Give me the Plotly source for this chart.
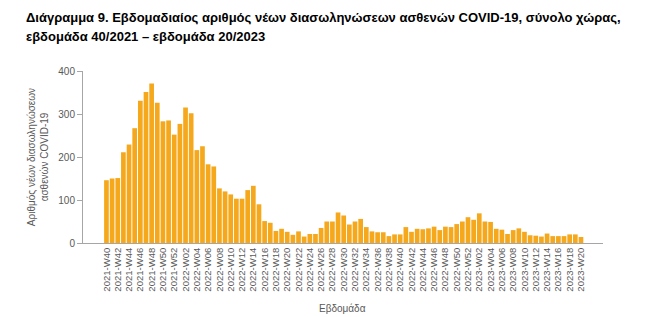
import plotly.graph_objects as go

weeks = ([f"2021-W{w:02d}" for w in range(40, 53)] +
         [f"2022-W{w:02d}" for w in range(1, 53)] +
         [f"2023-W{w:02d}" for w in range(1, 21)])

values = [146, 150, 151, 211, 229, 267, 331, 351, 371, 326,
          283, 285, 252, 277, 315, 302, 216, 225, 183, 178,
          127, 120, 113, 103, 103, 123, 133, 90, 51, 47,
          28, 33, 26, 19, 27, 15, 21, 21, 35, 50,
          50, 71, 64, 43, 50, 56, 37, 27, 25, 25,
          16, 20, 20, 37, 26, 33, 32, 34, 38, 30,
          38, 37, 44, 50, 60, 54, 69, 50, 49, 33,
          31, 21, 30, 34, 26, 18, 17, 15, 22, 16,
          16, 16, 20, 20, 14]

tick_labels = weeks[::2]

title_line1 = "Διάγραμμα 9. Εβδομαδιαίος αριθμός νέων διασωληνώσεων ασθενών COVID-19, σύνολο χώρας,"
title_line2 = "εβδομάδα 40/2021 – εβδομάδα 20/2023"
y_title = "Αριθμός νέων διασωληνώσεων<br>ασθενών COVID-19"
x_title = "Εβδομάδα"

axis_col = "#A6A6A6"
text_col = "#595959"

fig = go.Figure(go.Bar(x=list(range(len(weeks))), y=values,
                       marker=dict(color="#F5A81C", line=dict(width=0)),
                       hoverinfo="skip"))

fig.update_layout(
    width=650, height=317,
    margin=dict(l=83, r=47, t=71, b=74),
    plot_bgcolor="white", paper_bgcolor="white",
    bargap=0.17, showlegend=False,
    font=dict(family="Liberation Sans, Arial, sans-serif", color=text_col),
)
fig.update_xaxes(
    range=[-4.15, 87.9],
    tickmode="array",
    tickvals=list(range(0, len(weeks), 2)),
    ticktext=tick_labels,
    tickangle=-90,
    tickfont=dict(size=9.5, color=text_col),
    showline=True, linecolor=axis_col, linewidth=1,
    showgrid=False, zeroline=False, ticks="",
)
fig.update_yaxes(
    range=[0, 400],
    tickvals=[0, 100, 200, 300, 400],
    tickfont=dict(size=10, color=text_col),
    showline=True, linecolor=axis_col, linewidth=1,
    ticks="outside", ticklen=5, tickcolor=axis_col,
    showgrid=False, zeroline=False,
)

fig.add_annotation(text=f"<b>{title_line1}</b>", xref="paper", yref="paper",
                   x=(24 - 83) / 520, y=(242.7 - 18) / 171.7,
                   xanchor="left", yanchor="middle", showarrow=False,
                   font=dict(size=13, color="black", family="Liberation Sans, Arial, sans-serif"))
fig.add_annotation(text=f"<b>{title_line2}</b>", xref="paper", yref="paper",
                   x=(24 - 83) / 520, y=(242.7 - 37) / 171.7,
                   xanchor="left", yanchor="middle", showarrow=False,
                   font=dict(size=13, color="black", family="Liberation Sans, Arial, sans-serif"))
fig.add_annotation(text=y_title, xref="paper", yref="paper",
                   x=(38 - 83) / 520, y=(242.7 - 157) / 171.7,
                   xanchor="center", yanchor="middle", textangle=-90, showarrow=False,
                   font=dict(size=10, color=text_col))
fig.add_annotation(text=x_title, xref="paper", yref="paper",
                   x=(342 - 83) / 520, y=(242.7 - 308) / 171.7,
                   xanchor="center", yanchor="middle", showarrow=False,
                   font=dict(size=10, color=text_col))

fig.write_html("out.html")
